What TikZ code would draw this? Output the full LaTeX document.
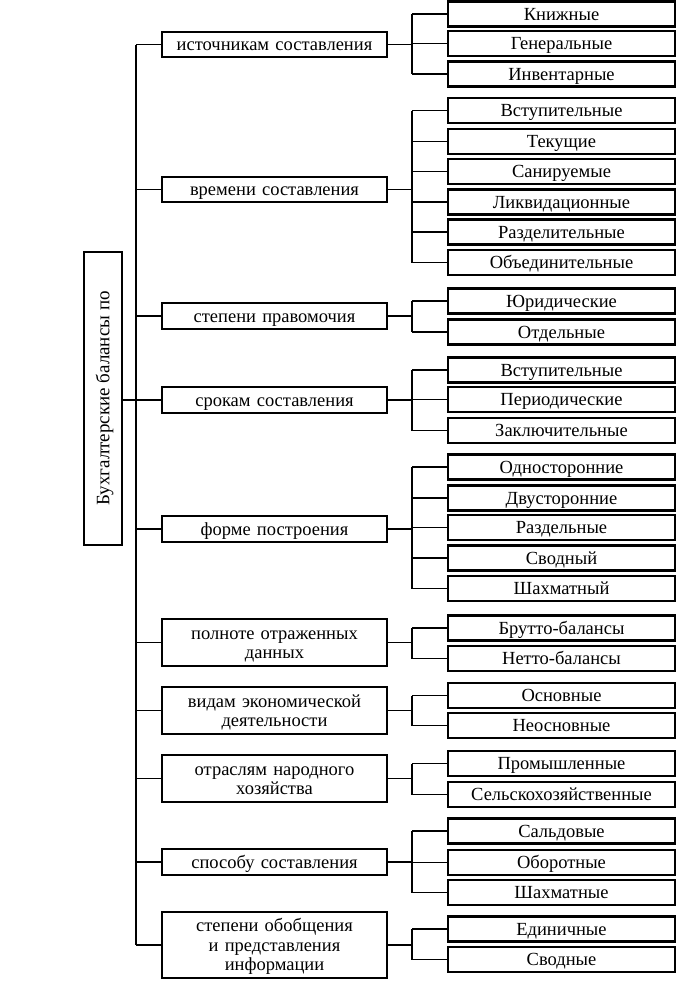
\documentclass[tikz,border=0pt]{standalone}
\usepackage{fontspec}
\setmainfont{Liberation Serif}
\begin{document}
\begin{tikzpicture}[x=1pt,y=-1pt,
  box/.style={draw, line width=2.2pt, inner sep=0pt, font=\fontsize{18.5}{19.5}\selectfont, align=center},
  one/.style={text height=12.5pt, text depth=0pt},
  two/.style={text height=12.5pt, text depth=19.5pt},
  three/.style={text height=12.5pt, text depth=39pt},
  mid/.style={box, minimum width=225pt, text width=221pt},
  leaf/.style={box, one, minimum width=227pt, minimum height=25pt, text width=223pt},
  ln/.style={line width=1.9pt}]
\useasboundingbox (0,0) rectangle (693,999);
% root
\node[box, one, font=\fontsize{19}{20}\selectfont, rotate=90, minimum width=293pt, minimum height=38pt] (root) at (103,398.5) {Бухгалтерские балансы по};
% middle boxes
\node[mid, one, minimum height=25pt] (m1) at (274.5,44.5) {источникам составления};
\node[mid, one, minimum height=25pt] (m2) at (274.5,189.5) {времени составления};
\node[mid, one, minimum height=26pt] (m3) at (274.5,316) {степени правомочия};
\node[mid, one, minimum height=26pt] (m4) at (274.5,400) {срокам составления};
\node[mid, one, minimum height=26pt] (m5) at (274.5,529) {форме построения};
\node[mid, two, minimum height=47pt] (m6) at (274.5,642.5) {полноте отраженных\\данных};
\node[mid, two, minimum height=47pt] (m7) at (274.5,710.5) {видам экономической\\деятельности};
\node[mid, two, minimum height=47pt] (m8) at (274.5,778.5) {отраслям народного\\хозяйства};
\node[mid, one, minimum height=26pt] (m9) at (274.5,862) {способу составления};
\node[mid, three, minimum height=66pt] (m10) at (274.5,945) {степени обобщения\\и представления\\информации};
% leaves
\node[leaf] (a1) at (561.5,14) {Книжные};
\node[leaf] (a2) at (561.5,43.5) {Генеральные};
\node[leaf] (a3) at (561.5,74) {Инвентарные};
\node[leaf] (b1) at (561.5,110.5) {Вступительные};
\node[leaf] (b2) at (561.5,141.5) {Текущие};
\node[leaf] (b3) at (561.5,171.5) {Санируемые};
\node[leaf] (b4) at (561.5,202) {Ликвидационные};
\node[leaf] (b5) at (561.5,232) {Разделительные};
\node[leaf] (b6) at (561.5,262.5) {Объединительные};
\node[leaf] (c1) at (561.5,301) {Юридические};
\node[leaf] (c2) at (561.5,332) {Отдельные};
\node[leaf] (d1) at (561.5,370) {Вступительные};
\node[leaf] (d2) at (561.5,399.5) {Периодические};
\node[leaf] (d3) at (561.5,430.5) {Заключительные};
\node[leaf] (e1) at (561.5,467) {Односторонние};
\node[leaf] (e2) at (561.5,498) {Двусторонние};
\node[leaf] (e3) at (561.5,527.5) {Раздельные};
\node[leaf] (e4) at (561.5,558) {Сводный};
\node[leaf] (e5) at (561.5,588.5) {Шахматный};
\node[leaf] (f1) at (561.5,628) {Брутто-балансы};
\node[leaf] (f2) at (561.5,658.5) {Нетто-балансы};
\node[leaf] (g1) at (561.5,695.5) {Основные};
\node[leaf] (g2) at (561.5,725.5) {Неосновные};
\node[leaf] (h1) at (561.5,763.5) {Промышленные};
\node[leaf] (h2) at (561.5,794.5) {Сельскохозяйственные};
\node[leaf] (i1) at (561.5,831) {Сальдовые};
\node[leaf] (i2) at (561.5,862.5) {Оборотные};
\node[leaf] (i3) at (561.5,892.5) {Шахматные};
\node[leaf] (j1) at (561.5,929) {Единичные};
\node[leaf] (j2) at (561.5,959.5) {Сводные};
% trunk
\coordinate (T) at (136,0);
\coordinate (B) at (412,0);
\draw[ln] (m1.west -| T) -- (m10.west -| T);
\draw[ln] (root.south |- m4.west) -- (m4.west -| T);
\foreach \m in {m1,m2,m3,m4,m5,m6,m7,m8,m9,m10}
  \draw[ln] (\m.west) -- (\m.west -| T);
\foreach \m in {m1,m2,m3,m4,m5,m6,m7,m8,m9,m10}
  \draw[ln] (\m.east) -- (\m.east -| B);
% brackets
\draw[ln] (a1.west -| B) -- (a3.west -| B);
\draw[ln] (b1.west -| B) -- (b6.west -| B);
\draw[ln] (c1.west -| B) -- (c2.west -| B);
\draw[ln] (d1.west -| B) -- (d3.west -| B);
\draw[ln] (e1.west -| B) -- (e5.west -| B);
\draw[ln] (f1.west -| B) -- (f2.west -| B);
\draw[ln] (g1.west -| B) -- (g2.west -| B);
\draw[ln] (h1.west -| B) -- (h2.west -| B);
\draw[ln] (i1.west -| B) -- (i3.west -| B);
\draw[ln] (j1.west -| B) -- (j2.west -| B);
\foreach \c in {a1,a2,a3,b1,b2,b3,b4,b5,b6,c1,c2,d1,d2,d3,e1,e2,e3,e4,e5,f1,f2,g1,g2,h1,h2,i1,i2,i3,j1,j2}
  \draw[ln] (\c.west -| B) -- (\c.west);
\end{tikzpicture}
\end{document}
